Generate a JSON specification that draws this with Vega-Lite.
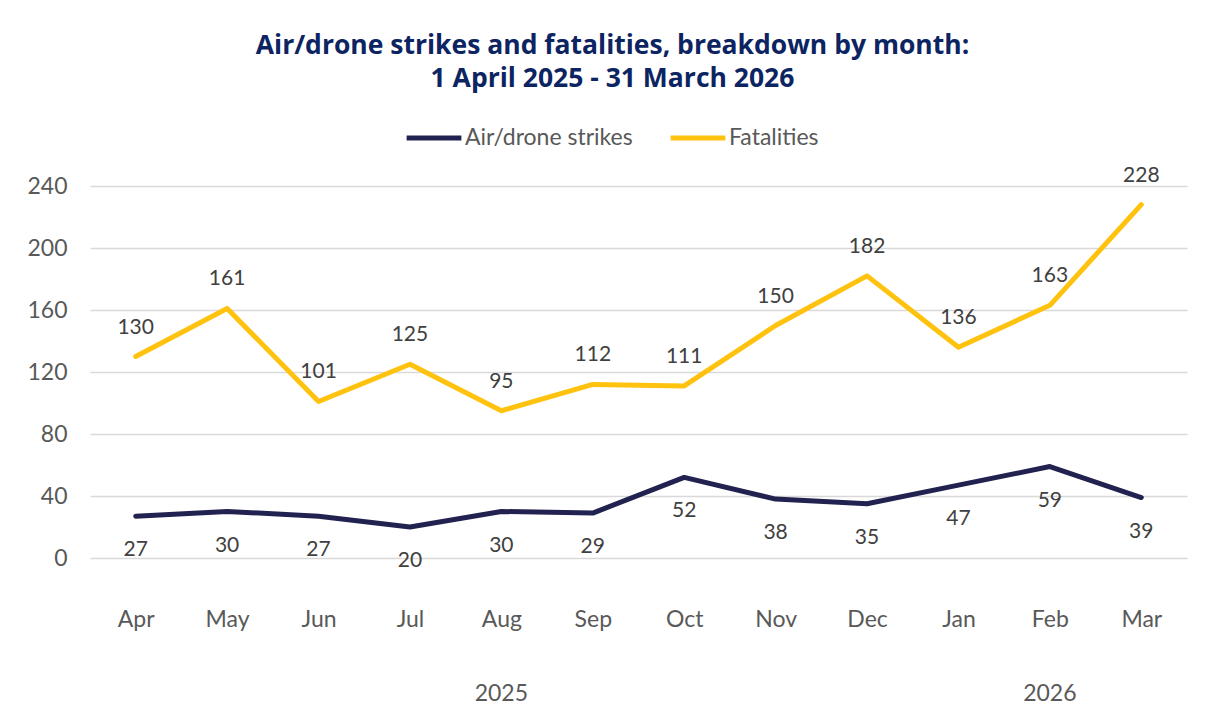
{
  "$schema": "https://vega.github.io/schema/vega-lite/v6.json",
  "width": 1097,
  "height": 372,
  "autosize": {"type": "none"},
  "padding": {"left": 90, "top": 186, "right": 26, "bottom": 164},
  "background": "white",
  "config": {"view": {"stroke": null}},
  "title": {
    "text": ["Air/drone strikes and fatalities, breakdown by month:", "1 April 2025 - 31 March 2026"],
    "font": "Open Sans",
    "fontSize": 26.5,
    "fontWeight": "bold",
    "lineHeight": 33,
    "color": "#0c2461",
    "anchor": "middle",
    "dx": -26,
    "offset": 16
  },
  "datasets": {
    "series": [
      {"month": "Apr", "series": "Air/drone strikes", "value": 27},
      {"month": "May", "series": "Air/drone strikes", "value": 30},
      {"month": "Jun", "series": "Air/drone strikes", "value": 27},
      {"month": "Jul", "series": "Air/drone strikes", "value": 20},
      {"month": "Aug", "series": "Air/drone strikes", "value": 30},
      {"month": "Sep", "series": "Air/drone strikes", "value": 29},
      {"month": "Oct", "series": "Air/drone strikes", "value": 52},
      {"month": "Nov", "series": "Air/drone strikes", "value": 38},
      {"month": "Dec", "series": "Air/drone strikes", "value": 35},
      {"month": "Jan", "series": "Air/drone strikes", "value": 47},
      {"month": "Feb", "series": "Air/drone strikes", "value": 59},
      {"month": "Mar", "series": "Air/drone strikes", "value": 39},
      {"month": "Apr", "series": "Fatalities", "value": 130},
      {"month": "May", "series": "Fatalities", "value": 161},
      {"month": "Jun", "series": "Fatalities", "value": 101},
      {"month": "Jul", "series": "Fatalities", "value": 125},
      {"month": "Aug", "series": "Fatalities", "value": 95},
      {"month": "Sep", "series": "Fatalities", "value": 112},
      {"month": "Oct", "series": "Fatalities", "value": 111},
      {"month": "Nov", "series": "Fatalities", "value": 150},
      {"month": "Dec", "series": "Fatalities", "value": 182},
      {"month": "Jan", "series": "Fatalities", "value": 136},
      {"month": "Feb", "series": "Fatalities", "value": 163},
      {"month": "Mar", "series": "Fatalities", "value": 228}
    ],
    "years": [
      {"month": "Aug", "year": "2025"},
      {"month": "Feb", "year": "2026"}
    ]
  },
  "encoding": {
    "x": {
      "field": "month",
      "type": "ordinal",
      "scale": {"domain": ["Apr","May","Jun","Jul","Aug","Sep","Oct","Nov","Dec","Jan","Feb","Mar"]},
      "axis": {
        "title": null,
        "labelAngle": 0,
        "domain": false,
        "ticks": false,
        "labelPadding": 50,
        "labelFont": "Lato",
        "labelFontSize": 23,
        "labelColor": "#595959"
      }
    }
  },
  "layer": [
    {
      "data": {"name": "series"},
      "mark": {"type": "line", "strokeWidth": 5, "strokeCap": "round", "strokeJoin": "round"},
      "encoding": {
        "y": {
          "field": "value",
          "type": "quantitative",
          "scale": {"domain": [0, 240]},
          "axis": {
            "title": null,
            "values": [0, 40, 80, 120, 160, 200, 240],
            "domain": false,
            "ticks": false,
            "labelPadding": 23,
            "labelFont": "Lato",
            "labelFontSize": 23,
            "labelColor": "#595959",
            "gridColor": "#d9d9d9",
            "gridWidth": 1.5
          }
        },
        "color": {
          "field": "series",
          "type": "nominal",
          "scale": {"domain": ["Air/drone strikes", "Fatalities"], "range": ["#222250", "#FFC20E"]},
          "legend": {
            "title": null,
            "orient": "none",
            "direction": "horizontal",
            "legendX": 314,
            "legendY": -78,
            "symbolType": "stroke",
            "symbolSize": 3000,
            "symbolStrokeWidth": 5,
            "labelFont": "Lato",
            "labelFontSize": 23,
            "labelLimit": 0,
            "labelColor": "#595959",
            "labelOffset": 1,
            "columnPadding": 27
          }
        }
      }
    },
    {
      "data": {"name": "series"},
      "transform": [{"filter": "datum.series === 'Air/drone strikes'"}],
      "mark": {"type": "text", "dy": 34, "font": "Lato", "fontSize": 21, "color": "#404040", "baseline": "middle"},
      "encoding": {
        "y": {"field": "value", "type": "quantitative"},
        "text": {"field": "value", "type": "quantitative"}
      }
    },
    {
      "data": {"name": "series"},
      "transform": [{"filter": "datum.series === 'Fatalities'"}],
      "mark": {"type": "text", "dy": -29, "font": "Lato", "fontSize": 21, "color": "#404040", "baseline": "middle"},
      "encoding": {
        "y": {"field": "value", "type": "quantitative"},
        "text": {"field": "value", "type": "quantitative"}
      }
    },
    {
      "data": {"name": "years"},
      "mark": {"type": "text", "dy": 136, "font": "Lato", "fontSize": 23, "color": "#595959", "baseline": "middle"},
      "encoding": {
        "y": {"datum": 0, "type": "quantitative"},
        "text": {"field": "year", "type": "nominal"}
      }
    }
  ]
}
